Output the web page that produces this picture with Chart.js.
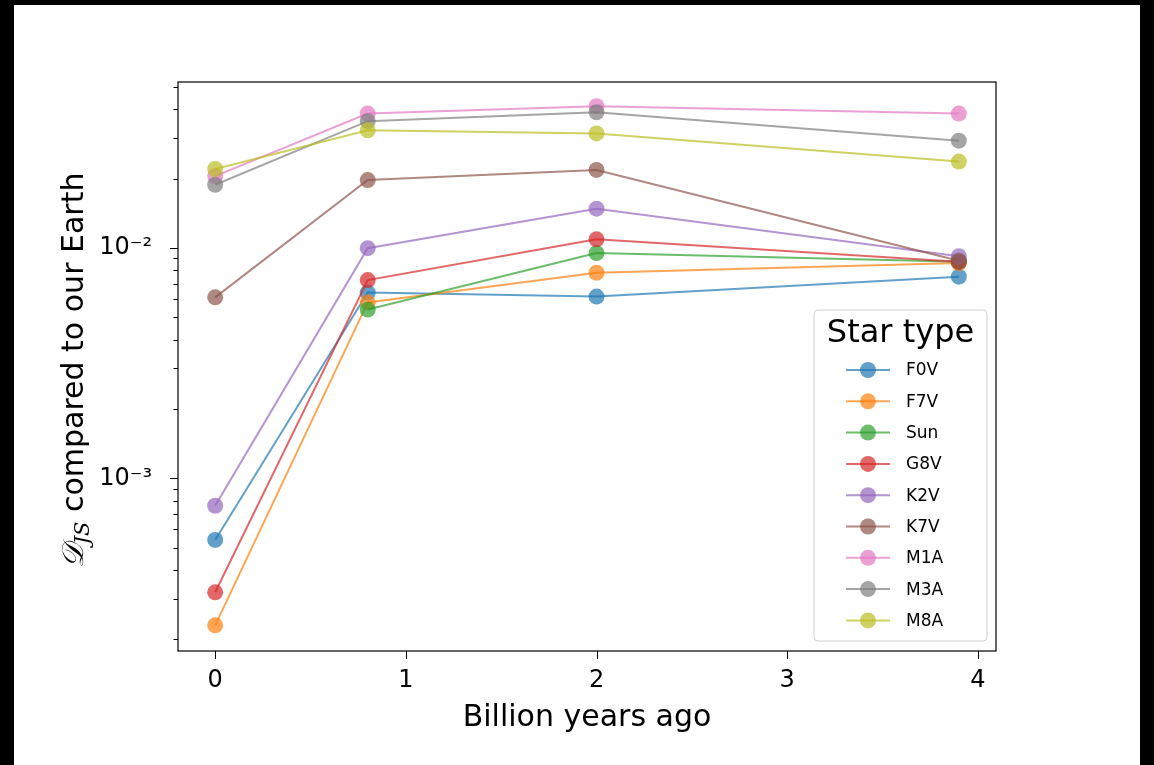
<!DOCTYPE html>
<html>
<head>
<meta charset="utf-8">
<script src="https://cdn.jsdelivr.net/npm/chart.js@4.4.1/dist/chart.umd.min.js"></script>
<style>
    body { margin: 0; background: #000; width: 1154px; height: 765px; overflow: hidden; }
    #paper { position: absolute; left: 14px; top: 5px; width: 1126px; height: 760px; background: #fff; }
    #chart { position: absolute; left: 0; top: 0; }
</style>
</head>
<body>
<div id="paper"></div>
<canvas id="chart" width="1154" height="765"></canvas>
<script>
// ---- data ----
const billionYearsAgo = [0, 0.8, 2, 3.9];
const starTypes = ['F0V', 'F7V', 'Sun', 'G8V', 'K2V', 'K7V', 'M1A', 'M3A', 'M8A'];

// Sun has no point at 0 (not shown on the log axis)
const djsF0V = [5.4e-4, 6.4e-3, 6.15e-3, 7.5e-3];
const djsF7V = [2.3e-4, 5.8e-3, 7.8e-3, 8.6e-3];
const djsSun = [null, 5.4e-3, 9.5e-3, 8.7e-3];
const djsG8V = [3.2e-4, 7.25e-3, 1.09e-2, 8.7e-3];
const djsK2V = [7.6e-4, 9.97e-3, 1.48e-2, 9.2e-3];
const djsK7V = [6.1e-3, 1.97e-2, 2.18e-2, 8.8e-3];
const djsM1A = [2.05e-2, 3.83e-2, 4.12e-2, 3.83e-2];
const djsM3A = [1.88e-2, 3.55e-2, 3.88e-2, 2.92e-2];
const djsM8A = [2.2e-2, 3.24e-2, 3.14e-2, 2.37e-2];

const seriesValues = [djsF0V, djsF7V, djsSun, djsG8V, djsK2V, djsK7V, djsM1A, djsM3A, djsM8A];
const seriesColors = ['#1f77b4', '#ff7f0e', '#2ca02c', '#d62728', '#9467bd', '#8c564b', '#e377c2', '#7f7f7f', '#bcbd22'];

const xTicks = [0, 1, 2, 3, 4];
const yMajorTicks = [1e-3, 1e-2];
const yMajorLabels = ['10⁻³', '10⁻²'];
const yMinorTicks = [2e-4, 3e-4, 4e-4, 5e-4, 6e-4, 7e-4, 8e-4, 9e-4,
    2e-3, 3e-3, 4e-3, 5e-3, 6e-3, 7e-3, 8e-3, 9e-3,
    2e-2, 3e-2, 4e-2, 5e-2];

const FONT = "'DejaVu Sans', sans-serif";

function withAlpha(hex, a) {
    const n = parseInt(hex.slice(1), 16);
    return `rgba(${(n >> 16) & 255}, ${(n >> 8) & 255}, ${n & 255}, ${a})`;
}

const datasets = starTypes.map((name, i) => ({
    label: name,
    data: billionYearsAgo.map((x, j) => ({ x: x, y: seriesValues[i][j] })),
    borderColor: withAlpha(seriesColors[i], 0.7),
    backgroundColor: withAlpha(seriesColors[i], 0.7),
    pointBackgroundColor: withAlpha(seriesColors[i], 0.7),
    pointBorderWidth: 0,
    pointRadius: 8,
    pointHoverRadius: 8,
    borderWidth: 2,
    tension: 0,
    spanGaps: false,
    order: starTypes.length - i
}));

// ---- plot frame, tick marks, y title, legend ----
const framePlugin = {
    id: 'frame',
    afterDraw(chart) {
        const { ctx, chartArea: a } = chart;
        const xs = chart.scales.x, ys = chart.scales.y;
        ctx.save();
        ctx.strokeStyle = '#000';
        ctx.lineWidth = 1.2;
        ctx.strokeRect(a.left, a.top, a.right - a.left, a.bottom - a.top);

        ctx.lineWidth = 1;
        ctx.beginPath();
        xTicks.forEach(v => {
            const px = Math.round(xs.getPixelForValue(v)) + 0.5;
            ctx.moveTo(px, a.bottom);
            ctx.lineTo(px, a.bottom + 8);
        });
        yMajorTicks.forEach(v => {
            const py = Math.round(ys.getPixelForValue(v)) + 0.5;
            ctx.moveTo(a.left, py);
            ctx.lineTo(a.left - 8, py);
        });
        yMinorTicks.forEach(v => {
            const py = Math.round(ys.getPixelForValue(v)) + 0.5;
            ctx.moveTo(a.left, py);
            ctx.lineTo(a.left - 4.5, py);
        });
        ctx.stroke();

        // y title: D_JS compared to our Earth
        const cy = (a.top + a.bottom) / 2 + 4;
        ctx.translate(72, cy);
        ctx.rotate(-Math.PI / 2);
        ctx.fillStyle = '#000';
        ctx.textBaseline = 'alphabetic';
        const big = "30px " + FONT;
        const sub = "italic 21px 'DejaVu Serif', serif";
        const cal = "italic 30px 'DejaVu Serif', serif";
        const rest = ' compared to our Earth';
        ctx.font = cal; const wD = ctx.measureText('𝒟').width;
        ctx.font = sub; const wS = ctx.measureText('JS').width;
        ctx.font = big; const wR = ctx.measureText(rest).width;
        let x0 = -(wD + wS + wR) / 2;
        const base = 11;
        ctx.font = cal; ctx.fillText('𝒟', x0, base); x0 += wD;
        ctx.font = sub; ctx.fillText('JS', x0, base + 6); x0 += wS;
        ctx.font = big; ctx.fillText(rest, x0, base);
        ctx.restore();

        // legend
        ctx.save();
        const lx = 814, ly = 310, lw = 173, lh = 331;
        ctx.beginPath();
        ctx.roundRect(lx, ly, lw, lh, 4);
        ctx.fillStyle = 'rgba(255,255,255,0.8)';
        ctx.fill();
        ctx.strokeStyle = '#d0d0d0';
        ctx.lineWidth = 1;
        ctx.stroke();
        ctx.fillStyle = '#000';
        ctx.font = "32px " + FONT;
        ctx.textAlign = 'center';
        ctx.textBaseline = 'middle';
        ctx.fillText('Star type', lx + lw / 2, 334);
        ctx.textAlign = 'left';
        ctx.font = "17px " + FONT;
        starTypes.forEach((name, i) => {
            const y = 370 + i * 31.3;
            const col = withAlpha(seriesColors[i], 0.7);
            ctx.strokeStyle = col;
            ctx.lineWidth = 2;
            ctx.beginPath();
            ctx.moveTo(846, y);
            ctx.lineTo(890, y);
            ctx.stroke();
            ctx.fillStyle = col;
            ctx.beginPath();
            ctx.arc(868, y, 8, 0, Math.PI * 2);
            ctx.fill();
            ctx.fillStyle = '#000';
            ctx.fillText(name, 906, y + 1);
        });
        ctx.restore();
    }
};

new Chart(document.getElementById('chart'), {
    type: 'line',
    data: { datasets: datasets },
    options: {
        responsive: false,
        animation: false,
        events: [],
        layout: { padding: { left: 0, top: 82, right: 158, bottom: 0 } },
        plugins: {
            legend: { display: false },
            tooltip: { enabled: false }
        },
        scales: {
            x: {
                type: 'linear',
                min: -0.195,
                max: 4.095,
                afterBuildTicks: s => { s.ticks = xTicks.map(v => ({ value: v })); },
                afterFit: s => { s.height = 114; },
                grid: { display: false },
                border: { display: false },
                ticks: {
                    color: '#000',
                    font: { family: FONT, size: 24 },
                    padding: 7,
                    maxRotation: 0,
                    callback: v => String(v)
                },
                title: {
                    display: true,
                    text: 'Billion years ago',
                    color: '#000',
                    font: { family: FONT, size: 30 },
                    padding: { top: 0, bottom: 29 }
                }
            },
            y: {
                type: 'logarithmic',
                min: 1.78e-4,
                max: 0.0525,
                afterBuildTicks: s => {
                    s.ticks = yMajorTicks.concat(yMinorTicks).sort((a, b) => a - b).map(v => ({ value: v }));
                },
                afterFit: s => { s.width = 178; },
                grid: { display: false },
                border: { display: false },
                ticks: {
                    color: '#000',
                    font: { family: FONT, size: 24 },
                    padding: 18,
                    autoSkip: false,
                    callback: v => {
                        const k = yMajorTicks.findIndex(m => Math.abs(m - v) / m < 1e-6);
                        return k >= 0 ? yMajorLabels[k] : '';
                    }
                }
            }
        }
    },
    plugins: [framePlugin]
});
</script>
</body>
</html>
